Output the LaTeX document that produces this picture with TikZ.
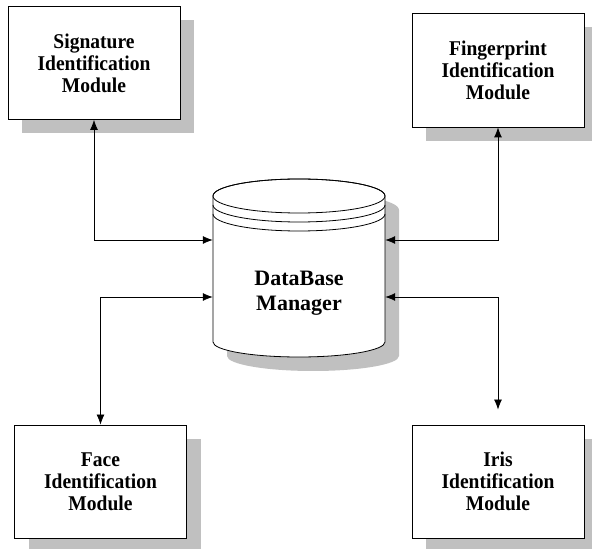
\documentclass[tikz,border=0pt]{standalone}
\usepackage{fontspec}
\setmainfont{Liberation Serif}
\newfontfamily\modfont{Liberation Serif}[FakeStretch=0.93]
\usetikzlibrary{shadows,arrows.meta}
\definecolor{shadowgray}{RGB}{192,192,192}
\tikzset{
	module/.style={draw, fill=white, line width=0.8pt, minimum width=172pt, minimum height=113pt, align=center,
		font=\modfont\fontsize{21}{22}\selectfont\bfseries,
		drop shadow={shadow xshift=14pt, shadow yshift=-14pt, fill=shadowgray, opacity=1}},
	conn/.style={line width=0.8pt, {Latex[length=10pt,width=8pt]}-{Latex[length=10pt,width=8pt]}}
}

\begin{document}
\begin{tikzpicture}[x=1pt,y=1pt]
		\useasboundingbox (0,0) rectangle (592,549);
		% database cylinder
		\fill[shadowgray, shift={(14pt,-14pt)}] (213,353) -- (213,207) arc[start angle=180, end angle=360, x radius=86pt, y radius=15pt] -- (385,353) arc[start angle=0, end angle=180, x radius=86pt, y radius=17pt] -- cycle;
		\filldraw[fill=white, line width=0.8pt] (213,353) -- (213,207) arc[start angle=180, end angle=360, x radius=86pt, y radius=15pt] -- (385,353) arc[start angle=0, end angle=180, x radius=86pt, y radius=17pt] -- cycle;
		\draw[line width=0.8pt] (299,353) ellipse [x radius=86pt, y radius=17pt];
		\draw[line width=0.8pt] (213,344) arc[start angle=180, end angle=360, x radius=86pt, y radius=17pt];
		\draw[line width=0.8pt] (213,335) arc[start angle=180, end angle=360, x radius=86pt, y radius=17pt];
		\node[minimum width=172pt, align=center, font=\fontsize{22}{25}\selectfont\bfseries](db) at (299,256) {DataBase\\Manager};
		% modules
		\node[module](sig) at (94,486) {Signature\\Identification\\Module};
		\node[module, minimum height=114pt](fing) at (498,479) {Fingerprint\\Identification\\Module};
		\node[module](face) at (100.5,67.5) {Face\\Identification\\Module};
		\node[module](iris) at (498,67.5) {Iris\\Identification\\Module};
		% links
		\draw[conn] (sig.south) |- ([yshift=53pt]db.west);
		\draw[conn] ([yshift=-4pt]db.west) -| (face.north);
		\draw[conn] (fing.south) |- ([yshift=53pt]db.east);
		\draw[conn, shorten >=15pt] ([yshift=-4pt]db.east) -| (iris.north);
	\end{tikzpicture}
\end{document}
